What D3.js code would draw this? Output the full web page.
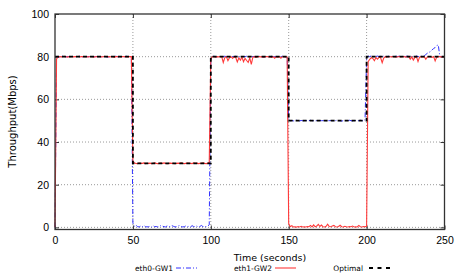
<!DOCTYPE html>
<html>
<head>
<meta charset="utf-8">
<script src="https://cdn.jsdelivr.net/npm/d3@7"></script>
<style>
  html, body { margin: 0; padding: 0; background: #fff; }
  svg { display: block; font-family: "DejaVu Sans", sans-serif; }
  .tick text { font-size: 10.5px; fill: #000; }
  .grid line { stroke: #999; stroke-dasharray: 1,2; }
</style>
</head>
<body>
<div id="chart"></div>
<script>
// Throughput per interface vs time, 1 s samples (t = 0..250)

const xTicks = [0, 50, 100, 150, 200, 250];
const yTicks = [0, 20, 40, 60, 80, 100];

// eth0-GW1 (blue, dash-dot)
const eth0 = [
  0, 80, 80.2, 79.8, 80, 80.3, 80, 79.9, 80.1, 80,
  80, 80.2, 79.9, 80, 80.1, 80, 80.3, 80, 79.8, 80,
  80.1, 80, 80, 80.2, 79.9, 80, 80, 80.1, 80, 79.9,
  80, 80.2, 80, 80, 79.8, 80, 80.1, 80, 80, 80.2,
  80, 79.9, 80, 80.1, 80, 80, 80.2, 80, 79.9, 80,
  2, 0.5, 1.1, 0.3, 0.2, 0.6, 0.3, 0.9, 0.4, 0.2,
  0.3, 0.5, 0.2, 0.8, 0.3, 0.4, 0.2, 0.3, 0.9, 0.6,
  0.3, 0.2, 0.7, 0.4, 0.3, 0.8, 0.5, 0.2, 0.3, 0.6,
  0.9, 0.4, 0.2, 0.3, 0.7, 0.3, 0.5, 0.2, 0.8, 0.4,
  0.3, 0.6, 0.2, 0.4, 0.9, 0.3, 0.5, 0.3, 0.6, 1.2,
  78.5, 80, 80.2, 80, 79.9, 80, 80.1, 80, 80, 80.2,
  80, 79.9, 80, 80.1, 80, 80, 80.2, 80, 79.9, 80,
  80.1, 80, 80, 80.2, 79.9, 80, 80, 80.1, 80, 79.9,
  80, 80.2, 80, 80, 79.8, 80, 80.1, 80, 80, 80.2,
  80, 79.9, 80, 80.1, 80, 80, 80.2, 80, 79.9, 80,
  50.5, 50, 50.1, 49.9, 50, 50.2, 50, 49.9, 50.1, 50,
  50, 50.1, 49.9, 50, 50.2, 50, 50, 49.9, 50.1, 50,
  50.1, 50, 50, 50.2, 49.9, 50, 50, 50.1, 50, 49.9,
  50, 50.2, 50, 50, 49.8, 50, 50.1, 50, 50, 50.2,
  50, 49.9, 50, 50.1, 50, 50, 50.2, 50, 49.9, 50.5,
  79, 80.3, 80, 80.4, 80, 80.2, 80.1, 80.3, 80, 80.2,
  80, 80.3, 80.1, 80, 80.2, 80, 80.3, 80, 80.1, 80.2,
  80, 80.3, 80, 80.1, 80.2, 80, 80.3, 80, 80.1, 80,
  80.2, 80, 80.3, 80, 80.1, 80.2, 80, 80.4, 81, 81.6,
  82, 82.4, 83.2, 83.8, 84.3, 85.2, 85.5, 80.2, 80, 80.1,
  80
];

// eth1-GW2 (red, solid)
const eth1 = [
  0, 79, 80, 80.1, 79.9, 80, 80.2, 80, 79.8, 80,
  80, 80.1, 79.9, 80, 80, 80.2, 79.9, 80, 80, 80.1,
  80, 79.9, 80, 80.1, 80, 79.8, 80, 80.1, 80, 80,
  79.9, 80, 80.2, 80, 80, 79.9, 80, 80.1, 79.7, 80,
  80, 80.1, 79.9, 80, 80, 80.1, 79.9, 80, 80, 80,
  31, 30.2, 30, 29.9, 30.1, 30, 30, 30.2, 29.9, 30,
  30, 30.1, 29.9, 30, 30.2, 30, 29.9, 30, 30.1, 30,
  30.2, 30, 29.9, 30, 30.1, 30, 30, 29.8, 30, 30.1,
  30, 30.2, 30, 29.9, 30, 30.1, 30, 30, 29.9, 30.2,
  30, 30.1, 29.9, 30, 30, 30.2, 30, 29.9, 30, 30.5,
  79, 80, 80.1, 79.8, 80, 79.9, 80, 80, 77.3, 79.6,
  80, 78.1, 79.5, 80, 79.2, 80, 79.6, 77.5, 79.4, 78.4,
  79.8, 77.6, 79.2, 78.2, 77.3, 79.4, 76.4, 79.8, 80, 79.7,
  80, 80.1, 79.9, 80, 79.8, 80, 80.1, 79.9, 80, 79.7,
  80, 79.3, 80, 79.8, 80, 79.3, 80, 80.1, 79.9, 79.8,
  1.8, 0.3, 0.8, 0.2, 0.3, 0.1, 0.4, 0.2, 0.5, 0.2,
  0.3, 0.2, 0.4, 0.3, 0.9, 0.2, 1.2, 0.3, 0.6, 1.4,
  0.4, 1.1, 0.3, 0.2, 0.5, 1.5, 0.4, 0.3, 0.6, 0.9,
  0.3, 0.2, 0.4, 1.0, 0.3, 0.2, 0.5, 0.3, 0.2, 0.4,
  0.3, 0.6, 0.2, 0.3, 0.2, 0.9, 0.3, 0.2, 0.4, 0.3,
  0.5, 77.7, 78.8, 79.5, 79.2, 78.1, 79.6, 78.8, 79.8, 79.5,
  77.2, 79.4, 80, 79.8, 80.1, 80, 79.9, 80.1, 80, 79.8,
  80, 80.1, 79.9, 80, 80.1, 79.8, 80, 80.1, 78.8, 79.9,
  78.4, 79.6, 80, 77.7, 79.8, 80, 79.9, 80, 78.8, 79.9,
  80, 80.1, 79.7, 80, 78, 79.8, 80, 80.1, 79.9, 80,
  80
];

// Optimal allocation (black dashed step)
const optimalT = [0, 50, 50, 100, 100, 150, 150, 200, 200, 250];
const optimalV = [80, 80, 30, 30, 80, 80, 50, 50, 80, 80];

const W = 464, H = 278;
const plot = { left: 55, right: 444.5, top: 14, bottom: 229.5 };

const x = d3.scaleLinear().domain([0, 250]).range([plot.left, plot.right]);
const y = d3.scaleLinear().domain([-1, 100]).range([plot.bottom, plot.top]);

const svg = d3.select('#chart').append('svg')
  .attr('width', W).attr('height', H);

// grid
const grid = svg.append('g').attr('class', 'grid');
grid.selectAll('.gx').data(xTicks.slice(1, -1)).enter().append('line')
  .attr('x1', d => x(d)).attr('x2', d => x(d))
  .attr('y1', plot.top).attr('y2', plot.bottom);
grid.selectAll('.gy').data(yTicks.slice(0, -1)).enter().append('line')
  .attr('x1', plot.left).attr('x2', plot.right)
  .attr('y1', d => y(d)).attr('y2', d => y(d));

// axes, ticks pointing inward (mirrored on top/right)
const tick = 4;
svg.append('g').attr('transform', `translate(0,${plot.bottom})`)
  .call(d3.axisBottom(x).tickValues(xTicks).tickSize(-tick).tickPadding(7))
  .call(g => g.select('.domain').remove());
svg.append('g').attr('transform', `translate(0,${plot.top})`)
  .call(d3.axisTop(x).tickValues(xTicks).tickSize(-tick).tickFormat(''))
  .call(g => g.select('.domain').remove());
svg.append('g').attr('transform', `translate(${plot.left},0)`)
  .call(d3.axisLeft(y).tickValues(yTicks).tickSize(-tick).tickPadding(6))
  .call(g => g.select('.domain').remove());
svg.append('g').attr('transform', `translate(${plot.right},0)`)
  .call(d3.axisRight(y).tickValues(yTicks).tickSize(-tick).tickFormat(''))
  .call(g => g.select('.domain').remove());
svg.selectAll('.tick line').attr('stroke', '#333');

// series
const line = d3.line().x((d, i) => x(i)).y(d => y(d));
const stepLine = d3.line().x(d => x(d[0])).y(d => y(d[1]));

svg.append('path').datum(eth0)
  .attr('d', line).attr('fill', 'none')
  .attr('stroke', '#3030ff').attr('stroke-width', 1)
  .attr('stroke-dasharray', '5,2,1,2');

svg.append('path').datum(eth1)
  .attr('d', line).attr('fill', 'none')
  .attr('stroke', '#ff3a3a').attr('stroke-width', 1.1);

svg.append('path').datum(optimalT.map((t, i) => [t, optimalV[i]]))
  .attr('d', stepLine).attr('fill', 'none')
  .attr('stroke', '#000').attr('stroke-width', 1.8)
  .attr('stroke-dasharray', '4,3');

// border
svg.append('rect')
  .attr('x', plot.left).attr('y', plot.top)
  .attr('width', plot.right - plot.left).attr('height', plot.bottom - plot.top)
  .attr('fill', 'none').attr('stroke', '#333').attr('stroke-width', 1.3);

// axis titles
svg.append('text')
  .attr('x', 270).attr('y', 260.5)
  .attr('text-anchor', 'middle').attr('font-size', 9.5)
  .text('Time (seconds)');
svg.append('text')
  .attr('transform', 'translate(16,121.5) rotate(-90)')
  .attr('text-anchor', 'middle').attr('font-size', 10)
  .text('Throughput(Mbps)');

// legend
const legend = [
  { name: 'eth0-GW1', textEnd: 173, x1: 176, x2: 197, color: '#3030ff', width: 1, dash: '5,2,1,2' },
  { name: 'eth1-GW2', textEnd: 272, x1: 275, x2: 296, color: '#ff3a3a', width: 1.1, dash: null },
  { name: 'Optimal', textEnd: 363, x1: 369, x2: 390, color: '#000', width: 1.8, dash: '4,4.5' }
];
const lg = svg.append('g').selectAll('g').data(legend).enter().append('g');
lg.append('text')
  .attr('x', d => d.textEnd).attr('y', 270.5)
  .attr('text-anchor', 'end').attr('font-size', 7.5)
  .text(d => d.name);
lg.append('line')
  .attr('x1', d => d.x1).attr('x2', d => d.x2)
  .attr('y1', 268).attr('y2', 268)
  .attr('stroke', d => d.color).attr('stroke-width', d => d.width)
  .attr('stroke-dasharray', d => d.dash);
</script>
</body>
</html>
